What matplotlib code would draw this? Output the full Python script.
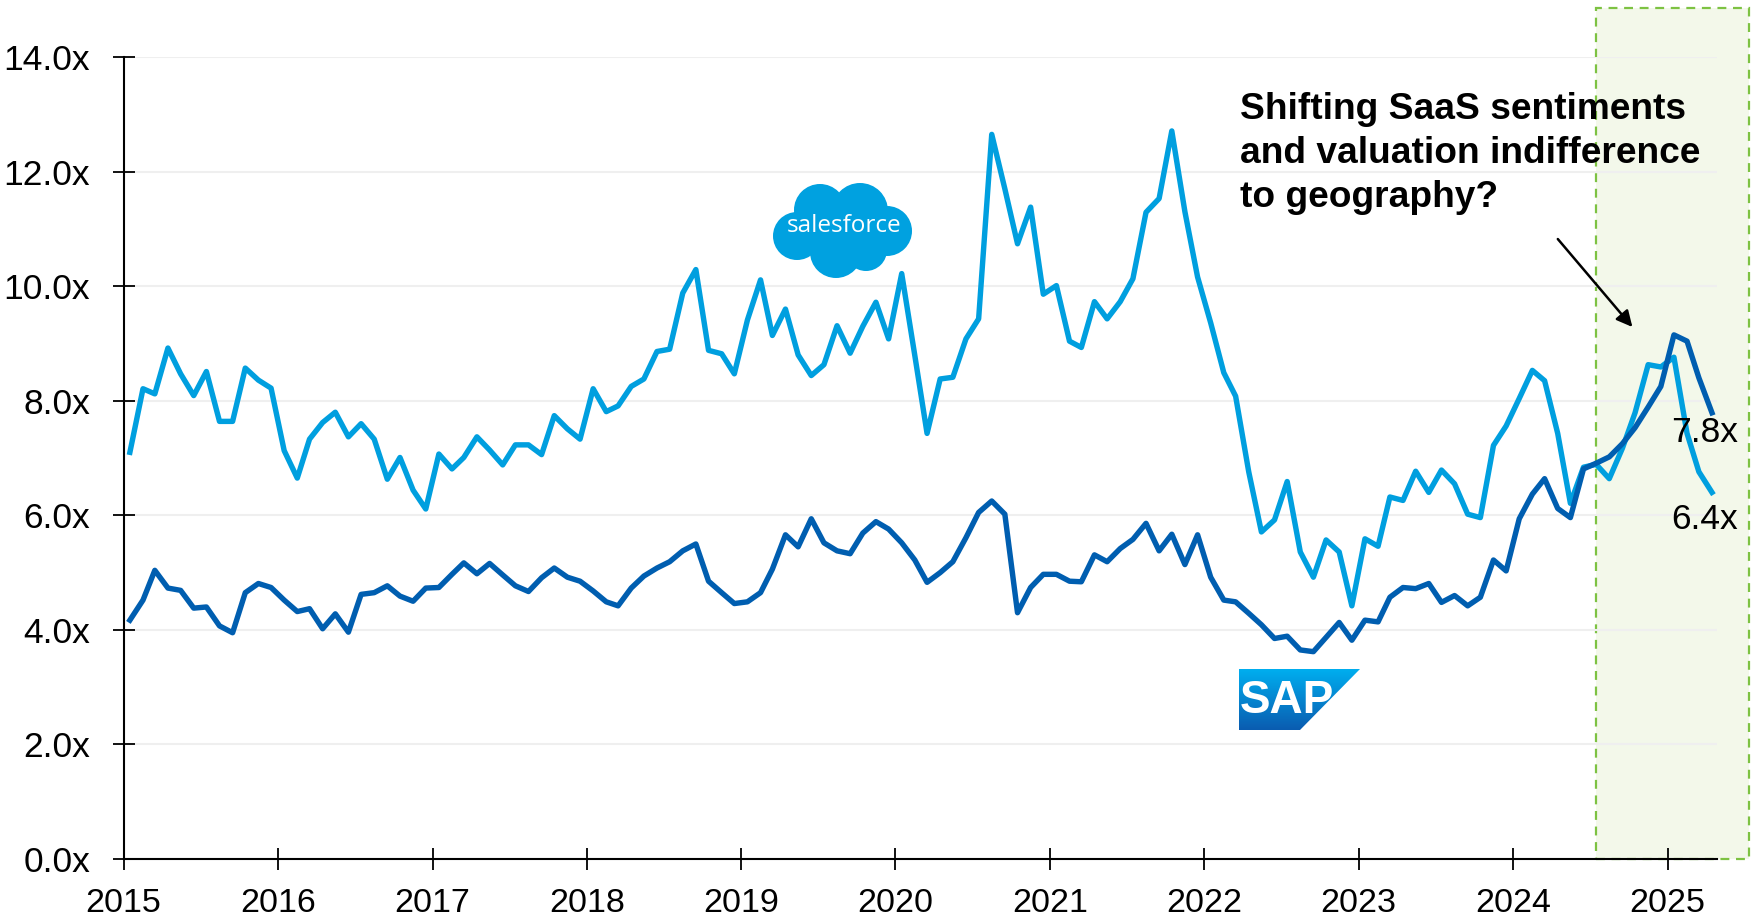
import numpy as np
import pandas as pd
import matplotlib
matplotlib.use('Agg')
import matplotlib.pyplot as plt
import matplotlib.dates as mdates
from matplotlib import font_manager
from matplotlib.patches import Rectangle, Circle, Polygon
from matplotlib.colors import LinearSegmentedColormap
from matplotlib.ticker import FuncFormatter

# EV / NTM revenue multiples, monthly, Jan 2015 - Apr 2025
salesforce = [7.10, 8.21, 8.12, 8.92, 8.47, 8.09, 8.51, 7.64, 7.64, 8.57, 8.36, 8.22,
              7.13, 6.65, 7.33, 7.62, 7.80, 7.37, 7.60, 7.33, 6.63, 7.01, 6.44, 6.11,
              7.07, 6.81, 7.01, 7.37, 7.14, 6.88, 7.23, 7.23, 7.06, 7.74, 7.51, 7.33,
              8.21, 7.81, 7.91, 8.25, 8.38, 8.86, 8.90, 9.88, 10.29, 8.88, 8.82, 8.47,
              9.41, 10.11, 9.14, 9.60, 8.80, 8.44, 8.63, 9.31, 8.83, 9.30, 9.72, 9.08,
              10.22, 8.79, 7.43, 8.38, 8.41, 9.08, 9.43, 12.65, 11.70, 10.74, 11.38, 9.86,
              10.01, 9.04, 8.93, 9.73, 9.43, 9.73, 10.13, 11.29, 11.53, 12.71, 11.30, 10.16,
              9.36, 8.49, 8.08, 6.76, 5.71, 5.92, 6.59, 5.36, 4.92, 5.57, 5.36, 4.42,
              5.59, 5.46, 6.32, 6.26, 6.77, 6.40, 6.79, 6.55, 6.02, 5.96, 7.22, 7.56,
              8.04, 8.53, 8.35, 7.43, 6.21, 6.84, 6.89, 6.64, 7.17, 7.79, 8.63, 8.59,
              8.76, 7.43, 6.76, 6.40]
sap = [4.17, 4.52, 5.04, 4.73, 4.69, 4.38, 4.40, 4.07, 3.95, 4.65, 4.81, 4.74,
       4.52, 4.32, 4.37, 4.02, 4.28, 3.96, 4.62, 4.65, 4.77, 4.59, 4.50, 4.73,
       4.74, 4.97, 5.17, 4.98, 5.16, 4.96, 4.77, 4.67, 4.91, 5.08, 4.92, 4.85,
       4.68, 4.49, 4.42, 4.73, 4.94, 5.08, 5.19, 5.38, 5.50, 4.85, 4.65, 4.46,
       4.49, 4.65, 5.06, 5.66, 5.45, 5.94, 5.52, 5.38, 5.33, 5.69, 5.89, 5.76,
       5.52, 5.22, 4.83, 5.00, 5.19, 5.61, 6.05, 6.25, 6.02, 4.30, 4.74, 4.97,
       4.97, 4.85, 4.84, 5.31, 5.19, 5.42, 5.58, 5.86, 5.38, 5.67, 5.14, 5.66,
       4.92, 4.52, 4.49, 4.29, 4.09, 3.85, 3.89, 3.65, 3.62, 3.87, 4.13, 3.82,
       4.17, 4.14, 4.57, 4.74, 4.72, 4.81, 4.48, 4.60, 4.42, 4.57, 5.22, 5.03,
       5.94, 6.37, 6.64, 6.12, 5.96, 6.81, 6.91, 7.02, 7.25, 7.53, 7.89, 8.25,
       9.15, 9.04, 8.40, 7.79]
start_month = "2015-01-01"
y_ticks = [0, 2, 4, 6, 8, 10, 12, 14]
note = "Shifting SaaS sentiments\nand valuation indifference\nto geography?"

dates = pd.date_range(start_month, periods=len(salesforce), freq="MS") + pd.Timedelta(days=15)

names = {f.name for f in font_manager.fontManager.ttflist}
narrow = 'Liberation Sans Narrow' if 'Liberation Sans Narrow' in names else None
plt.rcParams['font.family'] = 'Liberation Sans'

SF_BLUE = '#009FDF'
SAP_BLUE = '#005EB0'

fig = plt.figure(figsize=(17.6, 9.23), dpi=100)
ax = fig.add_axes([0.0702, 0.0693, 0.9054, 0.8689])

# zone de mise en evidence 2024-2025
x0 = mdates.date2num(pd.Timestamp("2024-07-16"))
x1 = mdates.date2num(pd.Timestamp("2025-07-13"))
ax.add_patch(Rectangle((x0, 0), x1 - x0, 14.85, facecolor='#F3F8EA', edgecolor='#7DC242',
                       lw=1.6, ls=(0, (4, 3)), clip_on=False, zorder=0))

ax.plot(dates, salesforce, color=SF_BLUE, lw=3.9, zorder=3)
ax.plot(dates, sap, color=SAP_BLUE, lw=3.9, zorder=4)

ax.set_xlim(pd.Timestamp("2015-01-01"), pd.Timestamp("2025-04-28"))
ax.set_ylim(0, 14)
ax.set_yticks(y_ticks)
ax.yaxis.set_major_formatter(FuncFormatter(lambda v, _: f"{v:.1f}x"))
ax.xaxis.set_major_locator(mdates.YearLocator())
ax.xaxis.set_major_formatter(mdates.DateFormatter('%Y'))

ax.yaxis.grid(True, color='#EFEFEF', lw=1.5)
ax.set_axisbelow(True)
for s in ['top', 'right']:
    ax.spines[s].set_visible(False)
for s in ['left', 'bottom']:
    ax.spines[s].set_linewidth(1.5)
ax.tick_params(axis='both', direction='inout', length=16, width=1.3)
ax.tick_params(axis='y', labelsize=25.5, pad=16)
if narrow:
    ax.tick_params(axis='x', labelsize=26, pad=13, labelfontfamily=narrow)
else:
    ax.tick_params(axis='x', labelsize=24.5, pad=13)

# valeurs finales
ax.text(mdates.date2num(pd.Timestamp("2025-01-10")), 7.45, f"{sap[-1]:.1f}x",
        fontsize=25.5, va='center', ha='left', zorder=5)
ax.text(mdates.date2num(pd.Timestamp("2025-01-10")), 5.93, f"{salesforce[-1]:.1f}x",
        fontsize=25.5, va='center', ha='left', zorder=5)

ax.annotate("", xy=(mdates.date2num(pd.Timestamp("2024-10-14")), 9.25),
            xytext=(mdates.date2num(pd.Timestamp("2024-04-12")), 10.86),
            arrowprops=dict(arrowstyle='-|>', color='black', lw=1.8, mutation_scale=24))

fig.text(1240 / 1760, 1 - 92 / 923, note, fontsize=26.7, fontweight='bold',
         va='top', ha='left', linespacing=1.33)

# logos (calque en pixels)
ov = fig.add_axes([0, 0, 1, 1])
ov.set_xlim(0, 1760)
ov.set_ylim(923, 0)
ov.axis('off')

for cx, cy, r in [(797, 236, 24), (820, 210, 26), (860, 211, 28), (887, 231, 25),
                  (836, 252, 26), (866, 250, 21), (842, 232, 31)]:
    ov.add_patch(Circle((cx, cy), r, color='#00A1E0', lw=0))
ov.text(844, 226, "salesforce", color='white', fontsize=17.5, family='Open Sans',
        ha='center', va='center')

sap_poly = Polygon([(1239, 669), (1360, 669), (1300, 730), (1239, 730)], closed=True,
                   facecolor='none', edgecolor='none')
ov.add_patch(sap_poly)
grad = np.linspace(0, 1, 100).reshape(-1, 1)
cmap = LinearSegmentedColormap.from_list('sapgrad', ['#00AEEF', '#0A5CB0'])
im = ov.imshow(grad, extent=(1239, 1360, 730, 669), cmap=cmap, aspect='auto',
               interpolation='bilinear')
im.set_clip_path(sap_poly)
ov.set_xlim(0, 1760)
ov.set_ylim(923, 0)
ov.text(1287, 701, "SAP", color='white', fontsize=33, fontweight='bold',
        ha='center', va='center')

plt.savefig('out.png', dpi=100)
plt.close()
